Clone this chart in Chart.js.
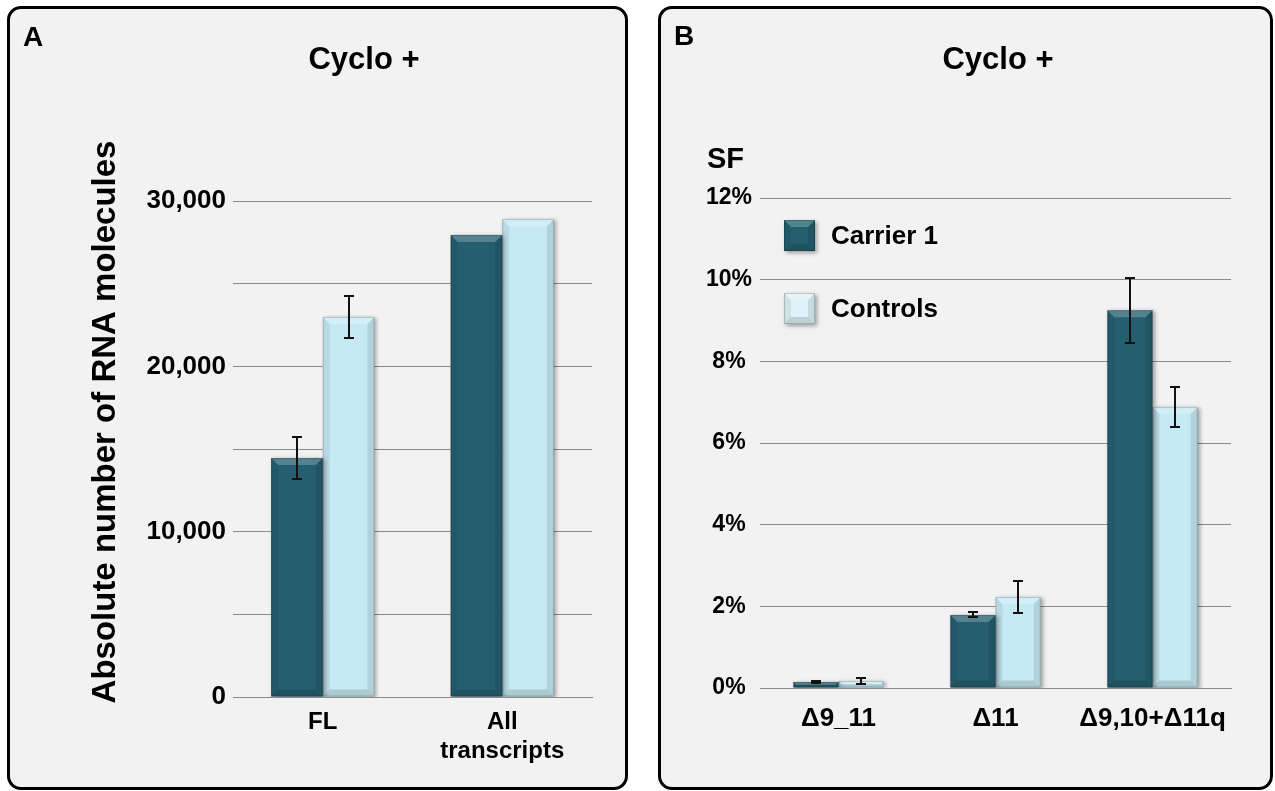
<!DOCTYPE html>
<html>
<head>
<meta charset="utf-8">
<script src="https://cdn.jsdelivr.net/npm/chart.js@4.4.1/dist/chart.umd.min.js"></script>
<style>
  html, body { margin: 0; padding: 0; background: #ffffff; }
  body { width: 1275px; height: 791px; position: relative; overflow: hidden; }
  .panel {
    position: absolute; top: 6px; height: 784px; box-sizing: border-box;
    border: 3px solid #000; border-radius: 14px; background: #f2f2f2;
  }
  #panelA { left: 7px; width: 621px; }
  #panelB { left: 658px; width: 615px; }
  canvas { position: absolute; top: 0; }
  #chartA { left: 0; }
  #chartB { left: 640px; }
</style>
</head>
<body>
<div class="panel" id="panelA"></div>
<div class="panel" id="panelB"></div>
<canvas id="chartA" width="640" height="791"></canvas>
<canvas id="chartB" width="635" height="791"></canvas>
<script>
// --- data ---
const seriesNames = ['Carrier 1', 'Controls'];

const panelACategories = ['FL', ['All', 'transcripts']];
const panelACarrier = [14450, 27950];
const panelAControls = [22990, 28900];
const panelACarrierErr = [1250, null];
const panelAControlsErr = [1250, null];

const panelBCategories = ['\u03949_11', '\u039411', '\u03949,10+\u039411q'];
const panelBCarrier = [0.15, 1.79, 9.25];
const panelBControls = [0.17, 2.23, 6.88];
const panelBCarrierErr = [0.02, 0.06, 0.8];
const panelBControlsErr = [0.08, 0.4, 0.49];

const DARK = '#255f6f';
const LIGHT = '#c6eaf4';
const GRID = '#8c8c8c';
const FONT = "'Liberation Sans', Arial, sans-serif";

Chart.defaults.font.family = FONT;
Chart.defaults.color = '#000';

function poly(ctx, pts, fill) {
  ctx.beginPath();
  ctx.moveTo(pts[0], pts[1]);
  for (let i = 2; i < pts.length; i += 2) ctx.lineTo(pts[i], pts[i + 1]);
  ctx.closePath();
  ctx.fillStyle = fill;
  ctx.fill();
}

function drawBevel(ctx, l, t, r, b) {
  const d = Math.max(1, Math.min(7, (b - t) / 2, (r - l) / 4));
  poly(ctx, [l, t, r, t, r - d, t + d, l + d, t + d], 'rgba(255,255,255,0.22)');
  poly(ctx, [l, t, l + d, t + d, l + d, b - d, l, b], 'rgba(0,0,0,0.07)');
  poly(ctx, [r, t, r, b, r - d, b - d, r - d, t + d], 'rgba(0,0,0,0.10)');
  poly(ctx, [l, b, l + d, b - d, r - d, b - d, r, b], 'rgba(0,0,0,0.14)');
  ctx.strokeStyle = 'rgba(0,0,0,0.18)';
  ctx.lineWidth = 1;
  ctx.strokeRect(l + 0.5, t + 0.5, r - l - 1, b - t - 1);
}

const barStylePlugin = {
  id: 'barStyle',
  beforeDatasetsDraw(chart) {
    const ctx = chart.ctx;
    ctx.save();
    ctx.shadowColor = 'rgba(0,0,0,0.35)';
    ctx.shadowBlur = 4;
    ctx.shadowOffsetX = 2;
    ctx.shadowOffsetY = 1;
  },
  afterDatasetsDraw(chart) {
    const ctx = chart.ctx;
    ctx.restore();
    const yScale = chart.scales.y;
    ctx.save();
    chart.data.datasets.forEach((ds, di) => {
      const meta = chart.getDatasetMeta(di);
      meta.data.forEach((bar) => {
        const l = bar.x - bar.width / 2;
        const r = bar.x + bar.width / 2;
        drawBevel(ctx, l, bar.y, r, bar.base);
      });
    });
    // error bars
    ctx.strokeStyle = '#111';
    ctx.lineWidth = 2;
    chart.data.datasets.forEach((ds, di) => {
      const meta = chart.getDatasetMeta(di);
      meta.data.forEach((bar, i) => {
        const err = ds.errors ? ds.errors[i] : null;
        if (!err) return;
        const v = ds.data[i];
        const yHi = Math.round(yScale.getPixelForValue(v + err));
        const yLo = Math.round(yScale.getPixelForValue(v - err));
        const x = Math.round(bar.x);
        ctx.beginPath();
        ctx.moveTo(x, yHi); ctx.lineTo(x, yLo);
        ctx.moveTo(x - 5, yHi); ctx.lineTo(x + 5, yHi);
        ctx.moveTo(x - 5, yLo); ctx.lineTo(x + 5, yLo);
        ctx.stroke();
      });
    });
    ctx.restore();
  },
};

function textPlugin(items) {
  return {
    id: 'panelText',
    afterDraw(chart) {
      const ctx = chart.ctx;
      items.forEach((it) => {
        ctx.save();
        ctx.font = `bold ${it.size}px ${FONT}`;
        ctx.fillStyle = '#000';
        ctx.textAlign = it.align || 'left';
        ctx.textBaseline = it.baseline || 'alphabetic';
        ctx.translate(it.x, it.y);
        if (it.rotate) ctx.rotate(it.rotate);
        ctx.fillText(it.text, 0, 0);
        ctx.restore();
      });
    },
  };
}

function legendPlugin(entries) {
  return {
    id: 'insideLegend',
    afterDraw(chart) {
      const ctx = chart.ctx;
      entries.forEach((e) => {
        ctx.save();
        ctx.shadowColor = 'rgba(0,0,0,0.35)';
        ctx.shadowBlur = 4;
        ctx.shadowOffsetX = 2;
        ctx.shadowOffsetY = 2;
        ctx.fillStyle = e.color;
        ctx.fillRect(e.x, e.y, 31, 31);
        ctx.restore();
        drawBevel(ctx, e.x, e.y, e.x + 31, e.y + 31);
        ctx.font = `bold 26px ${FONT}`;
        ctx.fillStyle = '#000';
        ctx.textBaseline = 'middle';
        ctx.textAlign = 'left';
        ctx.fillText(e.text, e.x + 47, e.y + 17);
      });
    },
  };
}

function makeDatasets(carrier, controls, carrierErr, controlsErr, lightColor) {
  return [
    {
      label: seriesNames[0], data: carrier, errors: carrierErr,
      backgroundColor: DARK, borderWidth: 0,
      categoryPercentage: 0.575, barPercentage: 1,
    },
    {
      label: seriesNames[1], data: controls, errors: controlsErr,
      backgroundColor: lightColor, borderWidth: 0,
      categoryPercentage: 0.575, barPercentage: 1,
    },
  ];
}

// ---------- Panel A ----------
new Chart(document.getElementById('chartA'), {
  type: 'bar',
  data: {
    labels: panelACategories,
    datasets: makeDatasets(panelACarrier, panelAControls, panelACarrierErr, panelAControlsErr, LIGHT),
  },
  options: {
    responsive: false,
    animation: false,
    events: [],
    layout: { padding: { left: 100, right: 48, top: 201, bottom: 24 } },
    plugins: { legend: { display: false }, tooltip: { enabled: false }, title: { display: false } },
    scales: {
      x: {
        grid: { display: false },
        border: { display: true, color: GRID, width: 1 },
        ticks: { font: { size: 24, weight: 'bold' }, color: '#000', padding: 3, maxRotation: 0 },
        afterFit(scale) { scale.height = 70; },
      },
      y: {
        min: 0, max: 30000,
        grid: { color: GRID, drawTicks: false },
        border: { display: false },
        ticks: {
          stepSize: 5000, padding: 7, color: '#000',
          font: { size: 26, weight: 'bold' },
          callback: (v) => (v % 10000 === 0 ? v.toLocaleString('en-US') : ''),
        },
        afterFit(scale) { scale.width = 133; },
      },
    },
  },
  plugins: [
    barStylePlugin,
    textPlugin([
      { text: 'A', size: 28, x: 23, y: 46 },
      { text: 'Cyclo +', size: 31, x: 364, y: 69, align: 'center' },
      { text: 'Absolute number of RNA molecules', size: 33, x: 106, y: 422, align: 'center', baseline: 'middle', rotate: -Math.PI / 2 },
    ]),
  ],
});

// ---------- Panel B ----------
new Chart(document.getElementById('chartB'), {
  type: 'bar',
  data: {
    labels: panelBCategories,
    datasets: makeDatasets(panelBCarrier, panelBControls, panelBCarrierErr, panelBControlsErr, LIGHT),
  },
  options: {
    responsive: false,
    animation: false,
    events: [],
    layout: { padding: { left: 40, right: 44, top: 198, bottom: 33 } },
    plugins: { legend: { display: false }, tooltip: { enabled: false }, title: { display: false } },
    scales: {
      x: {
        grid: { display: false },
        border: { display: true, color: GRID, width: 1 },
        ticks: { font: { size: 26, weight: 'bold' }, color: '#000', padding: 7, maxRotation: 0 },
        afterFit(scale) { scale.height = 70; },
      },
      y: {
        min: 0, max: 12,
        grid: { color: GRID, drawTicks: false },
        border: { display: false },
        ticks: {
          stepSize: 2, padding: 8, color: '#000', crossAlign: 'center',
          font: { size: 23, weight: 'bold' },
          callback: (v) => `${v}%`,
        },
        afterFit(scale) { scale.width = 80; },
      },
    },
  },
  plugins: [
    barStylePlugin,
    textPlugin([
      { text: 'B', size: 28, x: 34, y: 45 },
      { text: 'Cyclo +', size: 31, x: 358, y: 69, align: 'center' },
      { text: 'SF', size: 29, x: 67, y: 168 },
    ]),
    legendPlugin([
      { text: seriesNames[0], color: DARK, x: 144, y: 220 },
      { text: seriesNames[1], color: '#def3f9', x: 144, y: 293 },
    ]),
  ],
});
</script>
</body>
</html>
